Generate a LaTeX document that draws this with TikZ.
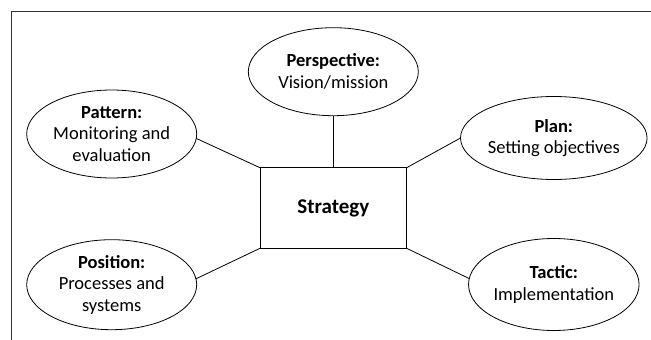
\documentclass[tikz,border=0pt]{standalone}
\usepackage{fontspec}
\setmainfont{Carlito}
\usetikzlibrary{shapes.geometric}

\begin{document}
\begin{tikzpicture}[x=1pt,y=-1pt,inner sep=0pt,outer sep=0pt,line width=0.8pt,
idea/.style={draw,ellipse,minimum width=170pt,minimum height=88pt,align=center,
  font=\fontsize{18.5}{21.7}\selectfont},
core/.style={draw,rectangle,minimum width=146.7pt,minimum height=80.6pt,
  font=\fontsize{21}{25}\selectfont\bfseries}]

\useasboundingbox (0,0) rectangle (651,340);
\draw[line width=1.2pt,black!80] (11.7,340) -- (11.7,11.7) -- (651,11.7);

\draw (333.3,208) node[core] (strategy) {Strategy};
\draw (333.3,71.7) node[idea] (persp) {\textbf{Perspective:}\\Vision/mission};
\draw (111.7,134) node[idea] (pattern) {\textbf{Pattern:}\\Monitoring and\\evaluation};
\draw (553.8,138) node[idea,minimum height=83pt] (plan) {\textbf{Plan:}\\Setting objectives};
\draw (111.7,284.7) node[idea,minimum height=90pt] (position) {\textbf{Position:}\\Processes and\\systems};
\draw (553.8,284.5) node[idea,minimum height=92pt] (tactic) {\textbf{Tactic:}\\Implementation};

\draw (persp.south) -- (strategy.north);
\draw (pattern.-3) -- (strategy.north west);
\draw (plan.west) -- (strategy.north east);
\draw (position.4) -- (strategy.south west);
\draw (tactic.176) -- (strategy.south east);

\end{tikzpicture}
\end{document}
